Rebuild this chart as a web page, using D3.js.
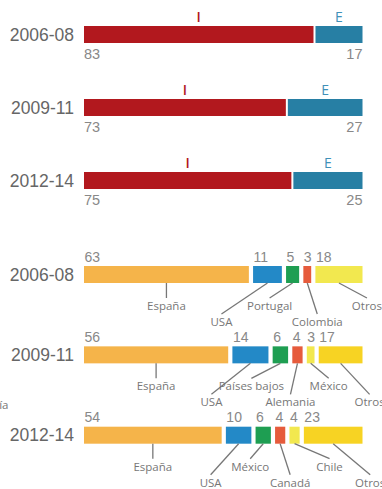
<!DOCTYPE html>
<html>
<head>
<meta charset="utf-8">
<script src="https://cdn.jsdelivr.net/npm/d3@7"></script>
<style>
  html, body { margin: 0; padding: 0; background: #fff; }
  svg { display: block; }
</style>
</head>
<body>
<script>
// Periods shown in both panels
const periods = ["2006-08", "2009-11", "2012-14"];

// Upper panel: share of the two groups (I / E), in percent
const shareI = [83, 73, 75];
const shareE = [17, 27, 25];
const shareKeys = ["I", "E"];

// Lower panel: breakdown by country, one list per period
const originNames2006 = ["España", "USA", "Portugal", "Colombia", "Otros"];
const originValues2006 = [63, 11, 5, 3, 18];
const originNames2009 = ["España", "USA", "Países bajos", "Alemania", "México", "Otros"];
const originValues2009 = [56, 14, 6, 4, 3, 17];
const originNames2012 = ["España", "USA", "México", "Canadá", "Chile", "Otros"];
const originValues2012 = [54, 10, 6, 4, 4, 23];

// ---- styling & layout ----
const W = 382, H = 489;
const x0 = 84, x1 = 362.5;
const topColors = { I: "#b2181e", E: "#277fa4" };
const topLetterColors = { I: "#b2181e", E: "#3f90b8" };
const cOrange = "#f5b44a", cBlue = "#2389c7", cGreen = "#1e9e52",
      cRed = "#e65b3c", cLight = "#f2e84f", cGold = "#f7d323";
const originColors = [
  [cOrange, cBlue, cGreen, cRed, cLight],
  [cOrange, cBlue, cGreen, cRed, cLight, cGold],
  [cOrange, cBlue, cGreen, cRed, cLight, cGold]
];
// leader label placement: horizontal shift from segment centre, and row (0 near, 1 far)
const leaderDx = [
  [0, -46, -23, 10, 28],
  [0, -39, -29, -7, 18, 29],
  [0, -28, -13, 10, 35, 37]
];
const leaderRow = [
  [0, 1, 0, 1, 0],
  [0, 1, 0, 1, 0, 1],
  [0, 1, 0, 1, 0, 1]
];

const barH = 17;
const yearFont = "'Liberation Sans', Arial, Helvetica, sans-serif";
const labelFont = "'Open Sans', 'DejaVu Sans', sans-serif";

const svg = d3.select("body").append("svg")
  .attr("width", W).attr("height", H);

// vertical positions of each panel's bars
const yTop = d3.scaleLinear().domain([0, 2]).range([26, 172]);
const yBottom = d3.scaleLinear().domain([0, 2]).range([266, 426.7]);

// lay out a row of stacked segments separated by a gap
function layoutRow(values, gap) {
  const total = d3.sum(values);
  const n = values.length;
  const x = d3.scaleLinear().domain([0, total]).range([0, (x1 - x0) - (n - 1) * gap]);
  let cum = 0;
  return values.map((v, i) => {
    const seg = { i, v, x: x0 + x(cum) + i * gap, w: x(v) };
    cum += v;
    return seg;
  });
}

function yearLabel(y, text) {
  svg.append("text")
    .attr("x", 74).attr("y", y + barH / 2)
    .attr("dy", "0.35em")
    .attr("text-anchor", "end")
    .attr("font-family", yearFont)
    .attr("font-size", 17.5)
    .attr("fill", "#666")
    .text(text);
}

// ---- upper panel ----
periods.forEach((p, r) => {
  const y = yTop(r);
  const segs = layoutRow([shareI[r], shareE[r]], 2);
  const g = svg.append("g");
  yearLabel(y, p);

  g.selectAll("rect").data(segs).join("rect")
    .attr("x", d => d.x).attr("y", y)
    .attr("width", d => d.w).attr("height", barH)
    .attr("fill", d => topColors[shareKeys[d.i]]);

  g.selectAll("text.key").data(segs).join("text")
    .attr("class", "key")
    .attr("x", d => d.x + d.w / 2).attr("y", y - 4.5)
    .attr("text-anchor", "middle")
    .attr("font-family", labelFont)
    .attr("font-size", 14)
    .attr("font-weight", d => d.i === 0 ? 600 : 400)
    .attr("fill", d => topLetterColors[shareKeys[d.i]])
    .text(d => shareKeys[d.i]);

  g.selectAll("text.val").data(segs).join("text")
    .attr("class", "val")
    .attr("x", d => d.i === 0 ? d.x : d.x + d.w)
    .attr("y", y + barH + 16)
    .attr("text-anchor", d => d.i === 0 ? "start" : "end")
    .attr("font-family", yearFont)
    .attr("font-size", 14.5)
    .attr("fill", "#888")
    .text(d => d.v);
});

// ---- lower panel ----
const originNames = [originNames2006, originNames2009, originNames2012];
const originValues = [originValues2006, originValues2009, originValues2012];

periods.forEach((p, r) => {
  const y = yBottom(r);
  const yb = y + barH;
  const segs = layoutRow(originValues[r], 4.2);
  const g = svg.append("g");
  yearLabel(y, p);

  g.selectAll("rect").data(segs).join("rect")
    .attr("x", d => d.x).attr("y", y)
    .attr("width", d => d.w).attr("height", barH)
    .attr("fill", d => originColors[r][d.i]);

  g.selectAll("text.val").data(segs).join("text")
    .attr("class", "val")
    .attr("x", d => d.x + 0.5).attr("y", y - 4.5)
    .attr("font-family", yearFont)
    .attr("font-size", 14)
    .attr("fill", "#888")
    .text(d => d.v);

  // leader lines and country names
  g.selectAll("line").data(segs).join("line")
    .attr("x1", d => d.x + d.w / 2).attr("y1", yb)
    .attr("x2", d => d.x + d.w / 2 + leaderDx[r][d.i])
    .attr("y2", d => yb + (leaderRow[r][d.i] ? 31 : 15))
    .attr("stroke", "#777").attr("stroke-width", 1.3);

  g.selectAll("text.name").data(segs).join("text")
    .attr("class", "name")
    .attr("x", d => d.x + d.w / 2 + leaderDx[r][d.i])
    .attr("y", d => yb + (leaderRow[r][d.i] ? 39 : 23))
    .attr("dy", "0.36em")
    .attr("text-anchor", "middle")
    .attr("font-family", labelFont)
    .attr("font-size", 11.5)
    .attr("fill", "#777")
    .text(d => originNames[r][d.i]);
});

// clipped label fragment at the left edge
svg.append("text")
  .attr("x", 8.5).attr("y", 405)
  .attr("dy", "0.36em")
  .attr("text-anchor", "end")
  .attr("font-family", labelFont)
  .attr("font-size", 11.5)
  .attr("fill", "#777")
  .text("ía");
</script>
</body>
</html>
